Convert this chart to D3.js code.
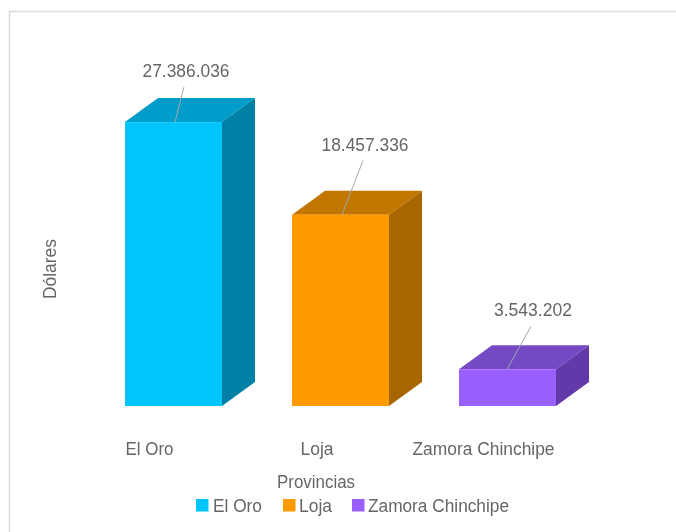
<!DOCTYPE html>
<html><head><meta charset="utf-8">
<script src="https://cdn.jsdelivr.net/npm/d3@7"></script>
<style>html,body{margin:0;background:#fff}svg{display:block;filter:blur(0.4px)}text{font-family:"Liberation Sans",Arial,sans-serif;fill:#666}</style>
</head><body><div id="c"></div>
<script>
const categories = ["El Oro", "Loja", "Zamora Chinchipe"];
const values = [27386036, 18457336, 3543202];
const displayLabels = ["27.386.036", "18.457.336", "3.543.202"];
const colors = ["#00c5fd", "#ff9a00", "#9a5fff"];
const topColors = ["#009dca", "#c27600", "#7548c4"];
const sideColors = ["#0080a5", "#a86600", "#6239a8"];

const W = 676, H = 532, dx = 33, dy = 24, fs = 17.5;
const svg = d3.select("#c").append("svg").attr("width", W).attr("height", H);
svg.append("path").attr("d", `M9.5 ${H}V11.5H${W}`).attr("fill", "none").attr("stroke", "#dcdcdc").attr("stroke-width", 1.5);

const x = d3.scaleBand().domain(categories).range([90, 591]).paddingInner(70 / 167).paddingOuter(35 / 167);
const y = d3.scaleLinear().domain([0, 30000000]).range([406, 95]);
const labelDx = [11, 23, 26], labelRise = [35, 54, 43];
const anchorX = [50, 50, 48];

const fit = (s, w) => s.attr("textLength", w).attr("lengthAdjust", "spacingAndGlyphs");

const g = svg.selectAll("g.bar").data(categories).join("g").attr("class", "bar");
const bx = c => x(c), bw = x.bandwidth();
const barTop = i => y(values[i]);
g.append("path").attr("fill", (d, i) => topColors[i])
  .attr("d", (d, i) => `M${bx(d)} ${barTop(i)}l${dx} ${-dy}h${bw}l${-dx} ${dy}z`);
g.append("path").attr("fill", (d, i) => sideColors[i])
  .attr("d", (d, i) => `M${bx(d) + bw} ${barTop(i)}l${dx} ${-dy}V${y(0) - dy}l${-dx} ${dy}z`);
g.append("rect").attr("fill", (d, i) => colors[i])
  .attr("x", bx).attr("width", bw).attr("y", (d, i) => barTop(i)).attr("height", (d, i) => y(0) - barTop(i));
g.append("line").attr("stroke", "#a0a8ad").attr("stroke-width", 1)
  .attr("x1", (d, i) => bx(d) + anchorX[i]).attr("y1", (d, i) => barTop(i))
  .attr("x2", (d, i) => bx(d) + anchorX[i] + labelDx[i] - 2).attr("y2", (d, i) => barTop(i) - labelRise[i]);
g.append("text").attr("text-anchor", "middle").attr("font-size", fs)
  .attr("x", (d, i) => bx(d) + anchorX[i] + labelDx[i]).attr("y", (d, i) => barTop(i) - labelRise[i] - 10)
  .text((d, i) => displayLabels[i])
  .each(function (d, i) { fit(d3.select(this), [87, 87, 78][i]); });

const axis = svg.append("g").attr("transform", "translate(0,455)")
  .call(d3.axisBottom(x).tickSize(0).tickPadding(0));
axis.select(".domain").remove();
axis.selectAll("text").attr("font-size", fs).attr("dy", 0).attr("y", 0)
  .attr("text-anchor", "start")
  .attr("x", (d, i) => [-48, -40, -95][i])
  .each(function (d, i) { fit(d3.select(this), [48, 33, 142][i]); });

fit(svg.append("text").attr("x", 316).attr("y", 488).attr("font-size", fs).attr("text-anchor", "middle").text("Provincias"), 78);
fit(svg.append("text").attr("transform", "translate(56,269) rotate(-90)").attr("font-size", fs).attr("text-anchor", "middle").text("Dólares"), 60);

const legendX = [196, 283, 352], legendText = [213, 299, 368];
const lg = svg.selectAll("g.leg").data(categories).join("g").attr("class", "leg");
lg.append("rect").attr("x", (d, i) => legendX[i]).attr("y", 499).attr("width", 12.5).attr("height", 12.5).attr("fill", (d, i) => colors[i]);
lg.append("text").attr("x", (d, i) => legendText[i]).attr("y", 512).attr("font-size", fs).text(d => d)
  .each(function (d, i) { fit(d3.select(this), [49, 33, 141][i]); });
</script></body></html>
